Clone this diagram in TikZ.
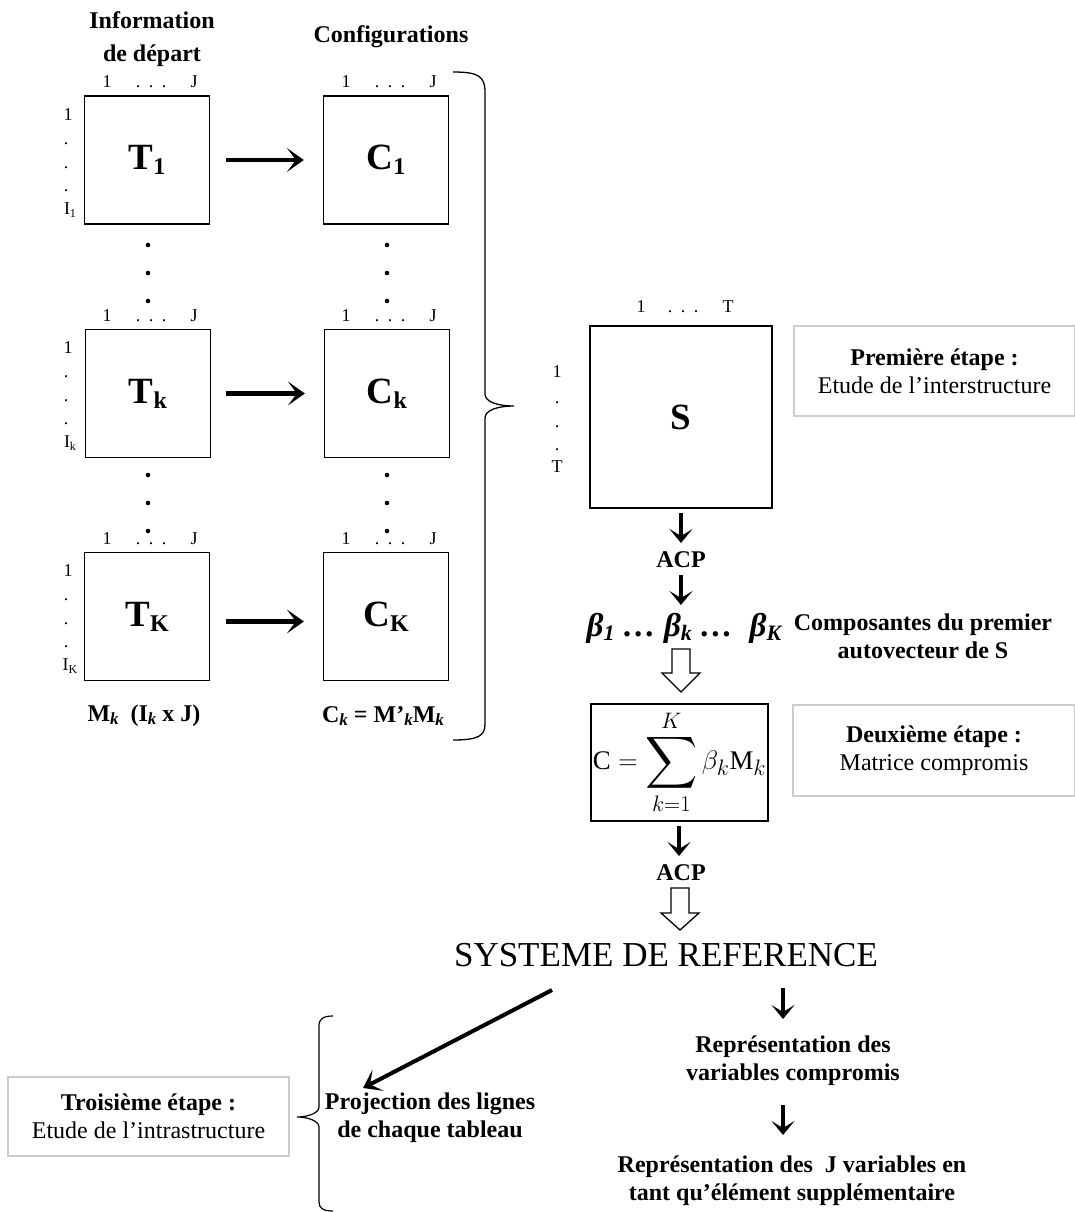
\documentclass[tikz,border=0pt]{standalone}
\usepackage{exscale}
\usepackage{fontspec}
\setmainfont{Liberation Serif}
\usepackage{graphicx}
\usetikzlibrary{arrows.meta,calc}
\newcommand{\mybsub}[1]{\raisebox{-5pt}{\fontsize{24}{24}\selectfont #1}}
\newcommand{\myssub}[1]{\raisebox{-3pt}{\fontsize{12}{12}\selectfont #1}}
\newcommand{\myksub}[1]{\raisebox{-3pt}{\fontsize{17}{17}\selectfont\itshape #1}}
\newcommand{\mybeta}[1]{β\raisebox{-4pt}{\fontsize{22}{22}\selectfont #1}}
\begin{document}
\begin{tikzpicture}[x=1pt,y=-1pt,
  mat/.style={draw, line width=1.3pt, minimum width=125pt, minimum height=128pt, inner sep=0pt,
    font=\fontsize{37}{40}\selectfont\bfseries},
  lab/.style={inner sep=0pt, font=\fontsize{18}{20}\selectfont},
  bt/.style={inner sep=0pt, align=center, font=\fontsize{24}{28}\selectfont\bfseries},
  stepbox/.style={draw=gray!40, line width=1.3pt, align=center, inner sep=0pt,
    font=\fontsize{24}{28}\selectfont},
  harrow/.style={line width=4.5pt, -{Stealth[length=17pt,width=24pt,inset=9pt]}},
  varrow/.style={line width=4.5pt, -{Stealth[length=14pt,width=23pt,inset=7pt]}},
  bigdot/.style={fill=black},
  hollow/.pic={\draw[line width=1.3pt, line join=miter, fill=white]
     (-9,0) -- (-9,24) -- (-19,24) -- (0,43) -- (19,24) -- (9,24) -- (9,0) -- cycle;},
  hollowb/.pic={\draw[line width=1.3pt, line join=miter, fill=white]
     (-9,0) -- (-9,25) -- (-19,25) -- (0,42) -- (19,25) -- (9,25) -- (9,0) -- cycle;}
]
\useasboundingbox (0,0) rectangle (1075,1212);
\fill[white] (0,0) rectangle (1075,1212);

% titles
\node[bt, font=\fontsize{24}{33}\selectfont\bfseries] (tinfo) at (152,39) {Information\\de départ};
\node[bt] (tconf) at (391,37) {Configurations};

% matrices
\node[mat] (T1) at (147,160) {T\mybsub{1}};
\node[mat] (C1) at (386,160) {C\mybsub{1}};
\node[mat] (Tk) at (148,393.5) {T\mybsub{k}};
\node[mat] (Ck) at (387,393.5) {C\mybsub{k}};
\node[mat] (TK) at (147,616.5) {T\mybsub{K}};
\node[mat] (CK) at (386,616.5) {C\mybsub{K}};

\draw[harrow, shorten <=16pt, shorten >=19pt] (T1.east) -- (C1.west);
\draw[harrow, shorten <=15pt, shorten >=19pt] (Tk.east) -- (Ck.west);
\draw[harrow, shorten <=16pt, shorten >=19pt] ([yshift=-5pt]TK.east) -- ([yshift=-5pt]CK.west);

% labels of the matrices
\foreach \yt/\s/\n in {96/1/a, 329/k/b, 552/K/c} {
  \node[lab] (rone\n) at (68,\yt+19) {1};
  \node[lab, anchor=base] (rda\n) at (66,\yt+48) {.};
  \node[lab, anchor=base] (rdb\n) at (66,\yt+72) {.};
  \node[lab, anchor=base] (rdc\n) at (66,\yt+95) {.};
  \node[lab] (rI\n) at (70,\yt+114) {I\myssub{\s}};
  \foreach \xo/\m in {84/T, 323/C} {
    \node[lab, anchor=base] (cone\m\n) at (\xo+23,\yt-8) {1};
    \node[lab, anchor=base] (cda\m\n) at (\xo+54,\yt-8) {.};
    \node[lab, anchor=base] (cdb\m\n) at (\xo+67,\yt-8) {.};
    \node[lab, anchor=base] (cdc\m\n) at (\xo+80,\yt-8) {.};
    \node[lab, anchor=base] (cJ\m\n) at (\xo+110,\yt-8) {J};
  }
}
% vertical ellipses between matrices
\foreach \xx in {148,387} {
  \foreach \yy in {245,273,301,475,503,531} {
    \fill[bigdot] (\xx,\yy) circle (2.3pt);
  }
}

% bottom labels
\node[bt] (mk) at (144,716) {M\myksub{k}\ \ (I\myksub{k} x J)};
\node[bt] (ckeq) at (383,716) {C\myksub{k} = M’\myksub{k}M\myksub{k}};

% right brace
\draw[line width=1.3pt] (453,72) .. controls (478,72) and (485,76) .. (485,92)
  -- (485,394) .. controls (485,402) and (498,406) .. (514,406)
  .. controls (498,406) and (485,410) .. (485,418)
  -- (485,724) .. controls (485,736) and (478,740) .. (453,740);

% S matrix
\node[mat, minimum width=182pt, minimum height=182pt] (S) at (681,417) {S};
\node[lab] (sr1) at (557,372) {1};
\node[lab, anchor=base] (srda) at (557,403) {.};
\node[lab, anchor=base] (srdb) at (557,427) {.};
\node[lab, anchor=base] (srdc) at (557,450) {.};
\node[lab] (srT) at (557,467) {T};
\node[lab, anchor=base] (sc1) at (641,312) {1};
\node[lab, anchor=base] (scda) at (670,312) {.};
\node[lab, anchor=base] (scdb) at (683,312) {.};
\node[lab, anchor=base] (scdc) at (696,312) {.};
\node[lab, anchor=base] (scT) at (728,312) {T};

\node[stepbox, minimum width=281pt, minimum height=90pt] (e1) at (934.5,371)
  {\textbf{Première étape :}\\Etude de l’interstructure};

% ACP 1
\coordinate (a1s) at (681,513); \coordinate (a1e) at (681,543);
\draw[varrow] (a1s) -- (a1e);
\node[bt] (acp1) at (681,560) {ACP};
\coordinate (a2s) at (681,575); \coordinate (a2e) at (681,605);
\draw[varrow] (a2s) -- (a2e);

% betas
\node[inner sep=0pt, font=\fontsize{33}{36}\selectfont\bfseries\itshape] (betas) at (684,628)
  {\mybeta{1} … \mybeta{k} …\ \ \mybeta{K}};
\node[bt] (comp) at (923,636) {Composantes du premier\\autovecteur de S};

\pic at (681,649) {hollow};

% compromise matrix
\node[draw, line width=1.3pt, minimum width=177pt, minimum height=117pt, inner sep=0pt,
  font=\fontsize{24.88}{30}\selectfont] (sum) at (679.5,762.5)
  {\scalebox{1.08}{$\displaystyle \mathrm{C} = \mathop{\vcenter{\hbox{\scalebox{1.35}{$\displaystyle\sum$}}}}\limits_{k=1}^{K} \beta_k \mathrm{M}_k$}};

\node[stepbox, minimum width=282pt, minimum height=91pt] (e2) at (934,750.5)
  {\textbf{Deuxième étape :}\\Matrice compromis};

\coordinate (a3s) at (679,826); \coordinate (a3e) at (679,856);
\draw[varrow] (a3s) -- (a3e);
\node[bt] (acp2) at (681,873) {ACP};
\pic at (680,888) {hollowb};

\node[inner sep=0pt, font=\fontsize{35}{40}\selectfont] (sys) at (666,955) {SYSTEME DE REFERENCE};

% bottom part
\coordinate (d1s) at (552,990); \coordinate (d1e) at (363,1088);
\draw[harrow, line width=4pt] (d1s) -- (d1e);

\coordinate (r1s) at (783,988); \coordinate (r1e) at (783,1019);
\draw[varrow] (r1s) -- (r1e);
\node[bt] (rep1) at (793,1061) {Représentation des\\variables compromis};
\coordinate (r2s) at (783,1105); \coordinate (r2e) at (783,1135);
\draw[varrow] (r2s) -- (r2e);
\node[bt] (rep2) at (792,1181) {Représentation des \ J variables en\\tant qu’élément supplémentaire};

\node[bt] (proj) at (430,1118) {Projection des lignes\\de chaque tableau};

\draw[line width=1.2pt] (333,1016) .. controls (323,1016) and (319,1019) .. (319,1026)
  -- (319,1107) .. controls (319,1113) and (308,1117) .. (297,1117)
  .. controls (308,1117) and (319,1121) .. (319,1127)
  -- (319,1202) .. controls (319,1208) and (323,1211) .. (333,1211);

\node[stepbox, minimum width=281pt, minimum height=79pt] (e3) at (148.5,1116.5)
  {\textbf{Troisième étape :}\\Etude de l’intrastructure};
\end{tikzpicture}
\end{document}
